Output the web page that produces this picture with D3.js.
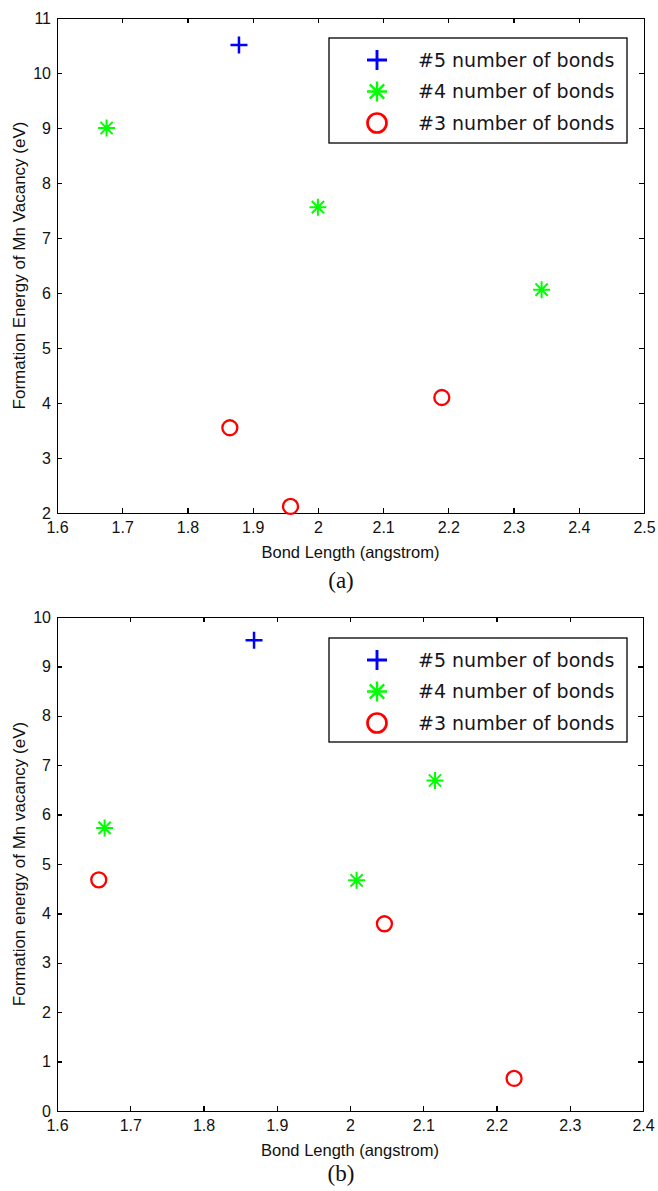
<!DOCTYPE html>
<html>
<head>
<meta charset="utf-8">
<script src="https://cdnjs.cloudflare.com/ajax/libs/d3/7.8.5/d3.min.js"></script>
<style>
body { margin: 0; background: #fff; }
svg text { font-family: "Liberation Sans", Arial, sans-serif; fill: #111; }
.axis path, .axis line { stroke: #000; stroke-width: 1.2; shape-rendering: crispEdges; }
.axis text { font-size: 16px; font-family: "Liberation Sans", Arial, sans-serif; fill: #111; }
.legend text { font-family: "DejaVu Sans", Verdana, sans-serif; font-size: 19px; fill: #151520; }
.caption { font-family: "Liberation Serif", "Times New Roman", serif !important; font-size: 23px; }
</style>
</head>
<body>
<script>
// series names, same in both panels
var seriesNames = ['#5 number of bonds', '#4 number of bonds', '#3 number of bonds'];
var seriesColors = ['#0000ff', '#00ff00', '#ff0000'];
var seriesKinds = ['plus', 'star', 'circle'];

// panel (a)
var aBond5 = [1.879];
var aEnergy5 = [10.51];
var aBond4 = [1.676, 2.000, 2.343];
var aEnergy4 = [9.00, 7.56, 6.06];
var aBond3 = [1.865, 1.958, 2.190];
var aEnergy3 = [3.55, 2.12, 4.10];
var aXTicks = [1.6, 1.7, 1.8, 1.9, 2.0, 2.1, 2.2, 2.3, 2.4, 2.5];
var aYTicks = [2, 3, 4, 5, 6, 7, 8, 9, 10, 11];

// panel (b)
var bBond5 = [1.869];
var bEnergy5 = [9.53];
var bBond4 = [1.665, 2.009, 2.116];
var bEnergy4 = [5.73, 4.67, 6.69];
var bBond3 = [1.657, 2.047, 2.224];
var bEnergy3 = [4.68, 3.79, 0.66];
var bXTicks = [1.6, 1.7, 1.8, 1.9, 2.0, 2.1, 2.2, 2.3, 2.4];
var bYTicks = [0, 1, 2, 3, 4, 5, 6, 7, 8, 9, 10];

var svg = d3.select(document.body).append('svg')
	.attr('width', 658)
	.attr('height', 1191);

var fmt = d3.format('~g');

// marker shapes, centred on 0,0
function markerPath(kind, s) {
	var h = s / 2, d = h * 0.72;
	if (kind == 'plus') return 'M' + (-h) + ',0H' + h + 'M0,' + (-h) + 'V' + h;
	if (kind == 'star') return 'M' + (-h) + ',0H' + h + 'M0,' + (-h) + 'V' + h +
		'M' + (-d) + ',' + (-d) + 'L' + d + ',' + d + 'M' + (-d) + ',' + d + 'L' + d + ',' + (-d);
	return d3.arc()({innerRadius: 0, outerRadius: h, startAngle: 0, endAngle: 2 * Math.PI});
}
function markerWidth(kind) {
	return kind == 'plus' ? 2.5 : kind == 'star' ? 2 : 2.3;
}

function drawPanel(p) {
	var g = svg.append('g');
	var x = d3.scaleLinear().domain(p.xDomain).range([p.left, p.right]);
	var y = d3.scaleLinear().domain(p.yDomain).range([p.bottom, p.top]);

	// matlab style box, ticks inward on every side
	g.append('g').attr('class', 'axis')
		.attr('transform', 'translate(0,' + p.bottom + ')')
		.call(d3.axisBottom(x).tickValues(p.xTicks).tickFormat(fmt).tickSizeInner(-5).tickSizeOuter(0).tickPadding(9));
	g.append('g').attr('class', 'axis')
		.attr('transform', 'translate(0,' + p.top + ')')
		.call(d3.axisTop(x).tickValues(p.xTicks).tickFormat('').tickSizeInner(-5).tickSizeOuter(0));
	g.append('g').attr('class', 'axis')
		.attr('transform', 'translate(' + p.left + ',0)')
		.call(d3.axisLeft(y).tickValues(p.yTicks).tickFormat(fmt).tickSizeInner(-5).tickSizeOuter(0).tickPadding(6));
	g.append('g').attr('class', 'axis')
		.attr('transform', 'translate(' + p.right + ',0)')
		.call(d3.axisRight(y).tickValues(p.yTicks).tickFormat('').tickSizeInner(-5).tickSizeOuter(0));
	g.selectAll('.axis text').attr('font-size', null).attr('font-family', null);

	// axis titles
	g.append('text')
		.attr('x', (p.left + p.right) / 2)
		.attr('y', p.bottom + 45)
		.attr('text-anchor', 'middle')
		.style('font-size', '16.5px')
		.text('Bond Length (angstrom)');
	g.append('text')
		.attr('transform', 'translate(19,' + (p.top + p.bottom) / 2 + ') rotate(-90)')
		.attr('text-anchor', 'middle')
		.attr('dy', '0.35em')
		.style('font-size', '17px')
		.text(p.yTitle);
	g.append('text')
		.attr('class', 'caption')
		.attr('x', 341)
		.attr('y', p.captionY)
		.attr('text-anchor', 'middle')
		.text(p.caption);

	// points
	p.series.forEach(function(s, i) {
		g.append('g').selectAll('path')
			.data(d3.zip(s[0], s[1]))
			.enter().append('path')
			.attr('transform', function(d) { return 'translate(' + x(d[0]) + ',' + y(d[1]) + ')'; })
			.attr('d', markerPath(seriesKinds[i], seriesKinds[i] == 'circle' ? 15 : 17))
			.attr('fill', 'none')
			.attr('stroke', seriesColors[i])
			.attr('stroke-width', markerWidth(seriesKinds[i]));
	});

	// legend
	var lg = g.append('g').attr('class', 'legend');
	lg.append('rect')
		.attr('x', p.legend.x).attr('y', p.legend.y)
		.attr('width', p.legend.w).attr('height', p.legend.h)
		.attr('fill', '#fff').attr('stroke', '#000').attr('stroke-width', 1.3);
	var rows = lg.selectAll('g.row').data(seriesNames).enter().append('g')
		.attr('class', 'row')
		.attr('transform', function(d, i) { return 'translate(0,' + (p.legend.y + 22 + i * 31.5) + ')'; });
	rows.append('path')
		.attr('transform', 'translate(' + (p.legend.x + 48) + ',0)')
		.attr('d', function(d, i) { return markerPath(seriesKinds[i], seriesKinds[i] == 'circle' ? 19 : 20); })
		.attr('fill', 'none')
		.attr('stroke', function(d, i) { return seriesColors[i]; })
		.attr('stroke-width', function(d, i) { return markerWidth(seriesKinds[i]) + 0.4; });
	rows.append('text')
		.attr('x', p.legend.x + 89)
		.attr('dy', '0.36em')
		.text(function(d) { return d; });
}

drawPanel({
	left: 57, right: 644, top: 18, bottom: 513,
	xDomain: [1.6, 2.5], yDomain: [2, 11],
	xTicks: aXTicks, yTicks: aYTicks,
	yTitle: 'Formation Energy of Mn Vacancy (eV)',
	caption: '(a)', captionY: 588,
	legend: {x: 329, y: 38, w: 298, h: 105},
	series: [[aBond5, aEnergy5], [aBond4, aEnergy4], [aBond3, aEnergy3]]
});

drawPanel({
	left: 57, right: 643, top: 617, bottom: 1111,
	xDomain: [1.6, 2.4], yDomain: [0, 10],
	xTicks: bXTicks, yTicks: bYTicks,
	yTitle: 'Formation energy of Mn vacancy (eV)',
	caption: '(b)', captionY: 1181,
	legend: {x: 329, y: 638, w: 298, h: 104},
	series: [[bBond5, bEnergy5], [bBond4, bEnergy4], [bBond3, bEnergy3]]
});
</script>
</body>
</html>
